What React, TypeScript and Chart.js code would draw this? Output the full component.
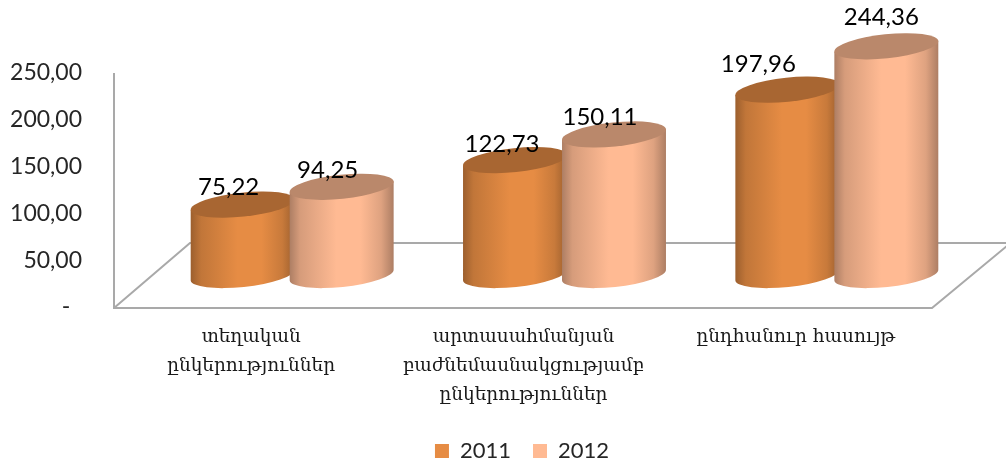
import React, { useEffect, useRef } from "react";
import { Chart, registerables, BarController, BarElement } from "chart.js";

const categories = [
  ["տեղական", "ընկերություններ"],
  ["արտասահմանյան", "բաժնեմասնակցությամբ", "ընկերություններ"],
  ["ընդհանուր հասույթ"],
];
const years = ["2011", "2012"];
const values2011 = [75.22, 122.73, 197.96];
const values2012 = [94.25, 150.11, 244.36];
const colors = ["#E68C44", "#FFBA93"];

// Hand-placed data-label offsets from the top of each cylinder, [dx, dy] per series.
const labelNudges = [
  [[-14, -17], [-13, -16], [-29, -25]],
  [[-14, -17], [-14, -17], [-5, -29]],
];

const DEPTH = { x: 41, y: 32 };
const FLOOR = { x: 75, y: 64 };
const TILT = (-6 * Math.PI) / 180;
const RY = 12;
const LEGEND_SPAN = { left: 112, right: 932 };

const hex = (c: string) => [1, 3, 5].map((i) => parseInt(c.slice(i, i + 2), 16));
const shade = (c: string, f: number) => {
  const [r, g, b] = hex(c);
  return `rgb(${Math.round(r * f)},${Math.round(g * f)},${Math.round(b * f)})`;
};

class Cylinder extends BarElement {
  static id = "cylinder";
  static defaults = BarElement.defaults;
  static defaultRoutes = BarElement.defaultRoutes;
  draw(ctx: CanvasRenderingContext2D) {
    const { x, y, base, width } = (this as any).getProps(["x", "y", "base", "width"]);
    const color = (this as any).options.backgroundColor as string;
    const rx = width / 2 / Math.cos(TILT);
    const ex = width / 2;
    const ey = ex * Math.tan(TILT);
    const g = ctx.createLinearGradient(x - ex, 0, x + ex, 0);
    g.addColorStop(0, shade(color, 0.68));
    g.addColorStop(0.1, shade(color, 0.84));
    g.addColorStop(0.45, color);
    g.addColorStop(0.68, color);
    g.addColorStop(0.88, shade(color, 0.87));
    g.addColorStop(1, shade(color, 0.68));
    ctx.save();
    ctx.beginPath();
    ctx.ellipse(x, base, rx, RY, TILT, 0, Math.PI);
    ctx.lineTo(x - ex, y - ey);
    ctx.lineTo(x + ex, y + ey);
    ctx.closePath();
    ctx.fillStyle = g;
    ctx.fill();
    ctx.beginPath();
    ctx.ellipse(x, y, rx, RY, TILT, 0, Math.PI * 2);
    ctx.fillStyle = shade(color, 0.73);
    ctx.fill();
    ctx.restore();
  }
}

class CylinderController extends BarController {
  static id = "cylinder";
  static defaults = { ...BarController.defaults, dataElementType: "cylinder" };
  static overrides = BarController.overrides;
}

Chart.register(...registerables, Cylinder, CylinderController);

const fmt = (v: number) => v.toFixed(2).replace(".", ",");

const scene = {
  id: "scene",
  afterLayout(chart: any) {
    chart.legend.left = LEGEND_SPAN.left;
    chart.legend.right = LEGEND_SPAN.right;
  },
  beforeDatasetsDraw(chart: any) {
    const { ctx, chartArea: a } = chart;
    ctx.save();
    ctx.strokeStyle = "#a9a9a9";
    ctx.lineWidth = 2;
    ctx.beginPath();
    ctx.moveTo(a.left - 1, a.top);
    ctx.lineTo(a.left - 1, a.bottom + 1);
    ctx.lineTo(a.right, a.bottom + 1);
    ctx.lineTo(a.right + FLOOR.x, a.bottom - FLOOR.y + 3);
    ctx.moveTo(a.left - 1, a.bottom + 1);
    ctx.lineTo(a.left + FLOOR.x, a.bottom - FLOOR.y);
    ctx.lineTo(a.right + FLOOR.x, a.bottom - FLOOR.y);
    ctx.stroke();
    ctx.translate(DEPTH.x, -DEPTH.y);
    const metas = chart.getSortedVisibleDatasetMetas();
    metas.forEach((m: any) => m.controller.draw());
    ctx.fillStyle = "#000";
    ctx.font = "24px Lato";
    ctx.textAlign = "center";
    ctx.textBaseline = "middle";
    metas.forEach((m: any) => {
      m.data.forEach((el: any, i: number) => {
        const [dx, dy] = labelNudges[m.index][i];
        ctx.fillText(fmt(chart.data.datasets[m.index].data[i]), el.x + dx, el.y + dy);
      });
    });
    ctx.restore();
    return false;
  },
};

export default function App() {
  const ref = useRef<HTMLCanvasElement>(null);
  useEffect(() => {
    const chart = new Chart(ref.current!, {
      type: "cylinder" as any,
      data: {
        labels: categories as any,
        datasets: [
          { label: years[0], data: values2011, backgroundColor: colors[0] },
          { label: years[1], data: values2012, backgroundColor: colors[1] },
        ],
      },
      plugins: [scene],
      options: {
        animation: false,
        responsive: false,
        categoryPercentage: 0.727,
        barPercentage: 1.05,
        layout: { padding: { left: 0, right: 74, top: 73, bottom: -8 } },
        plugins: {
          tooltip: { enabled: false },
          legend: {
            position: "bottom",
            labels: {
              boxWidth: 14,
              boxHeight: 14,
              padding: 22,
              color: "#262626",
              font: { family: "Lato", size: 22 },
            },
          },
        },
        scales: {
          x: {
            grid: { display: false },
            border: { display: false },
            afterFit(s: any) { s.height = 111; },
            ticks: {
              autoSkip: false,
              maxRotation: 0,
              padding: 8,
              color: "#1a1a1a",
              font: { family: "'DejaVu Serif'", size: 18.5, lineHeight: 1.56 },
            },
          },
          y: {
            min: 0,
            max: 250,
            grid: { display: false },
            border: { display: false },
            afterFit(s: any) { s.width = 115; },
            ticks: {
              stepSize: 50,
              padding: 25,
              color: "#262626",
              font: { family: "Lato", size: 23 },
              callback: (v: any) => (v === 0 ? "-  " : fmt(v)),
            },
          },
        },
      } as any,
    });
    return () => chart.destroy();
  }, []);
  return (
    <div style={{ position: "absolute", left: 0, top: 0, width: 1006, height: 464 }}>
      <canvas ref={ref} width={1006} height={464} style={{ display: "block" }} />
    </div>
  );
}
